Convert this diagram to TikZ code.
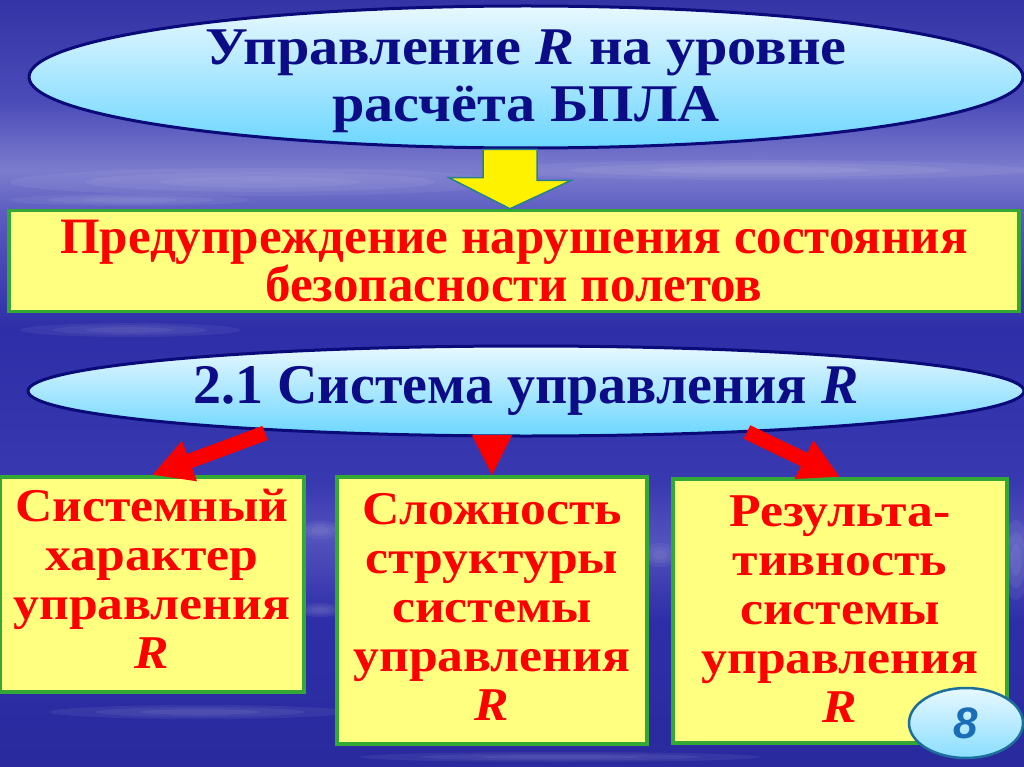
\documentclass[tikz,border=0pt]{standalone}
\usepackage{fontspec}
\setmainfont{Liberation Serif}
\newfontfamily\widefont[FakeStretch=1.1]{Liberation Serif}
\newfontfamily\badgefont{Liberation Sans}
\usetikzlibrary{shapes.geometric,arrows.meta}

\definecolor{navytext}{RGB}{12,12,135}
\definecolor{navyline}{RGB}{10,10,120}
\definecolor{ovaltop}{RGB}{232,248,255}
\definecolor{ovalbot}{RGB}{108,214,255}
\definecolor{boxyellow}{RGB}{255,255,128}
\definecolor{boxgreen}{RGB}{52,168,52}
\definecolor{arrowred}{RGB}{250,0,0}
\definecolor{yarrowline}{RGB}{40,130,140}
\definecolor{badgeline}{RGB}{30,110,155}
\definecolor{badgetext}{RGB}{26,110,184}
\definecolor{skytop}{RGB}{52,52,166}
\definecolor{skytopb}{RGB}{74,74,184}
\definecolor{skylight}{RGB}{124,124,206}
\definecolor{skymid}{RGB}{90,90,192}
\definecolor{skydark}{RGB}{46,46,168}
\definecolor{skylow}{RGB}{56,56,176}
\definecolor{skylightb}{RGB}{82,82,188}
\definecolor{skybot}{RGB}{42,42,158}

\pgfdeclareverticalshading{skyshade}{100bp}{color(0bp)=(skybot); color(25bp)=(skybot);
  color(34.6bp)=(skydark); color(39.8bp)=(skylightb); color(43.7bp)=(skylow);
  color(53.5bp)=(skydark); color(61bp)=(skymid); color(63.9bp)=(skylight);
  color(68.5bp)=(skytopb); color(75bp)=(skytop); color(100bp)=(skytop)}

\begin{document}
\begin{tikzpicture}[x=1pt,y=1pt,yscale=-1,
    oval/.style={ellipse, draw=navyline, line width=3, top color=ovaltop, bottom color=ovalbot, text=navytext, align=center, inner sep=0},
    goalbox/.style={draw=boxgreen, line width=3.5, fill=boxyellow, text=red, align=center, inner sep=0},
    itembox/.style={goalbox, anchor=north, font=\widefont\fontsize{47}{49}\selectfont\bfseries},
    redarrow/.style={draw=arrowred, fill=arrowred, line width=15, -{Triangle[width=40pt,length=40pt]}},
    streak/.style={fill=white, opacity=0.06}]
\useasboundingbox (0,0) rectangle (1024,767);

%Background
\shade [shading=skyshade] (0,0) rectangle (1024,767);
\foreach \r in {1,0.7,0.4} {
  \fill [streak] (260,182) ellipse [x radius=250*\r, y radius=14*\r];
  \fill [streak] (760,170) ellipse [x radius=270*\r, y radius=10*\r];
  \fill [streak] (130,200) ellipse [x radius=120*\r, y radius=6*\r];
  \fill [streak] (130,330) ellipse [x radius=110*\r, y radius=7*\r];
  \fill [streak] (320,530) ellipse [x radius=22*\r, y radius=9*\r];
  \fill [streak] (320,610) ellipse [x radius=22*\r, y radius=7*\r];
  \fill [streak] (660,555) ellipse [x radius=18*\r, y radius=12*\r];
  \fill [streak] (1016,560) ellipse [x radius=14*\r, y radius=40*\r];
  \fill [streak] (200,712) ellipse [x radius=150*\r, y radius=7*\r];
  \fill [streak] (560,757) ellipse [x radius=200*\r, y radius=5*\r];
}

%Shape: Ellipse [id:title]
\draw (526,77) node [oval, minimum width=994, minimum height=142, inner ysep=-9pt, font=\widefont\fontsize{53}{57}\selectfont\bfseries] (title) {\rule{0pt}{43pt}Управление \textit{R} на уровне\\расчёта БПЛА};

%Shape: Rectangle [id:goal]
\draw (514,261) node [goalbox, minimum width=1010, minimum height=101, font=\fontsize{51}{41}\selectfont\bfseries] (goal) {Предупреждение нарушения состояния\\безопасности полетов};

%Shape: Block Arrow [id:yarrow]
\path (title.south) ++(-16,0) coordinate (yA);
\draw [draw=yarrowline, line width=1.5, fill=yellow, line join=miter] (yA) ++(-27,0) -- ++(54,0) -- ++(0,31) -- ++(34,0) -- (goal.north -| yA) -- ++(-61,-31) -- ++(34,0) -- cycle;

%Shape: Ellipse [id:sys]
\draw (526,391) node [oval, minimum width=996, minimum height=90, font=\fontsize{56}{50}\selectfont\bfseries] (sys) {2.1 Система управления \textit{R}};

%Shape: Rectangles [id:items]
\draw (152,475) node [itembox, minimum width=304, minimum height=215] (b1) {Системный\\характер\\управления\\\textit{R}\rule[-10pt]{0pt}{10pt}};
\draw (492,475) node [itembox, minimum width=310, minimum height=267] (b2) {Сложность\\структуры\\системы\\управления\\\textit{R}\rule[-7pt]{0pt}{7pt}};
\draw (840,477) node [itembox, minimum width=334, minimum height=264] (b3) {Результа-\\тивность\\системы\\управления\\\textit{R}\rule[-4pt]{0pt}{4pt}};

%Red Arrows
\coordinate (a1) at (265,433);
\coordinate (a2) at (492,437);
\coordinate (a3) at (747,432);
\draw [redarrow] (a1) -- (b1.north);
\draw [redarrow, line width=0.1] (a2) -- (b2.north);
\draw [redarrow] (a3) -- (b3.north);

%Shape: Ellipse [id:badge]
\draw (966,723) node [ellipse, draw=badgeline, line width=2.5, top color=ovaltop, bottom color=ovalbot!80, minimum width=114, minimum height=70, inner sep=0, text=badgetext, font=\badgefont\fontsize{44}{44}\selectfont\bfseries\itshape] (badge) {8};

\end{tikzpicture}
\end{document}
